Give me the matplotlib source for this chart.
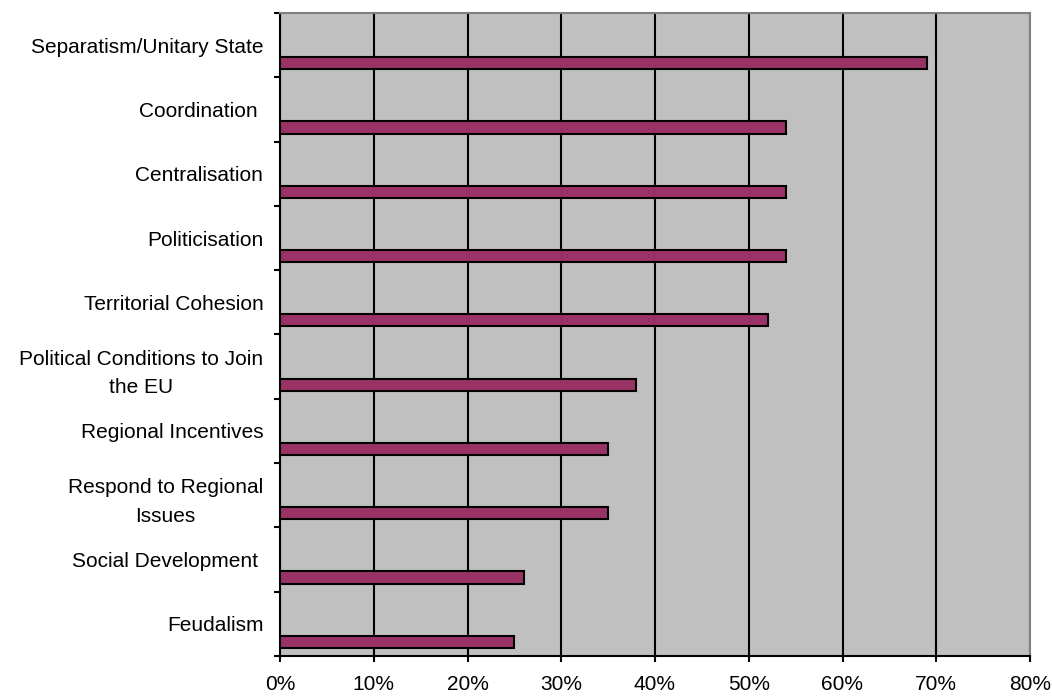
import matplotlib.pyplot as plt
import numpy as np

plt.rcParams['font.family'] = ['Liberation Sans', 'DejaVu Sans']

categories = ['Separatism/Unitary State', 'Coordination ', 'Centralisation', 'Politicisation',
              'Territorial Cohesion', 'Political Conditions to Join\nthe EU', 'Regional Incentives',
              'Respond to Regional\nIssues', 'Social Development ', 'Feudalism']
values = [69, 54, 54, 54, 52, 38, 35, 35, 26, 25]
x_ticks = [0, 10, 20, 30, 40, 50, 60, 70, 80]

fig = plt.figure(figsize=(10.52, 6.97), dpi=100)
ax = fig.add_axes([280/1052, 41/697, 750/1052, 643/697])
ax.set_facecolor('#C0C0C0')

pos = np.arange(len(categories))
# bars sit in the lower part of each band
ax.barh(pos + 0.28, values, height=0.19, color='#993366', edgecolor='black', linewidth=1.5, zorder=3)

ax.set_xlim(0, 80)
ax.set_ylim(len(categories) - 0.5, -0.5)
ax.set_xticks(x_ticks)
ax.set_xticklabels([f'{t}%' for t in x_ticks], fontsize=15)
ax.xaxis.grid(True, color='black', linewidth=1.5, zorder=1)
ax.set_axisbelow(True)

ax.set_yticks(pos)
ax.set_yticklabels(categories, fontsize=15, multialignment='center', linespacing=1.65)
ax.tick_params(axis='y', which='major', length=0, pad=12)
ax.set_yticks(np.arange(len(categories) + 1) - 0.5, minor=True)
ax.tick_params(axis='y', which='minor', length=4.5, width=1.5, direction='out')
ax.tick_params(axis='x', length=4.5, width=1.5, direction='out', pad=9)

for s in ['left', 'bottom']:
    ax.spines[s].set_color('black')
    ax.spines[s].set_linewidth(1.5)
for s in ['top', 'right']:
    ax.spines[s].set_color('#808080')
    ax.spines[s].set_linewidth(1.5)

fig.savefig('out.png', dpi=100)
